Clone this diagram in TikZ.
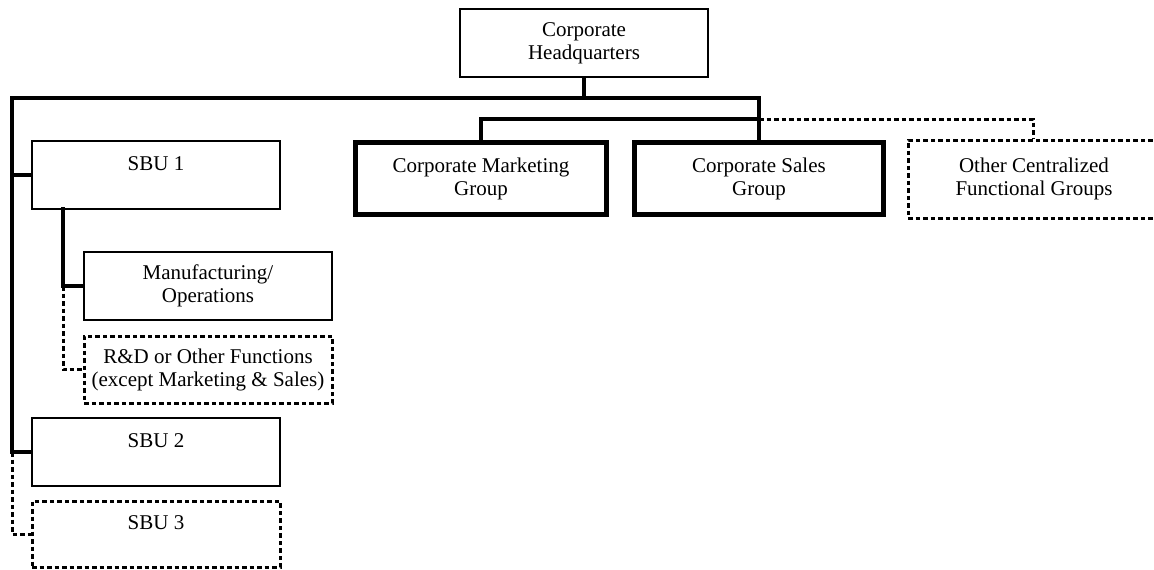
\documentclass[tikz,border=0pt]{standalone}
\usepackage{fontspec}
\setmainfont{Liberation Serif}
\begin{document}
\begin{tikzpicture}[x=1pt,y=-1pt,
  box/.style={draw, rectangle, line width=2pt, align=center, inner sep=0pt, font=\fontsize{21}{23}\selectfont},
  thickbox/.style={box, line width=5.5pt},
  dbox/.style={box, line width=3pt, dash pattern=on 4.5pt off 3pt},
  conn/.style={line width=3.4pt, line cap=rect},
  dconn/.style={line width=3pt, dash pattern=on 4.5pt off 3pt}]
\useasboundingbox (0,0) rectangle (1154,570);
\node[box, minimum width=248pt, minimum height=68pt] (hq) at (584,43) {Corporate\\Headquarters};
\node[thickbox, minimum width=251pt, minimum height=72pt] (mkt) at (481,178.5) {Corporate Marketing\\Group};
\node[thickbox, minimum width=249pt, minimum height=72pt] (sales) at (759,178.5) {Corporate Sales\\Group};
\node[dbox, minimum width=252pt, minimum height=78pt] (other) at (1034,179) {Other Centralized\\Functional Groups};
\node[box, minimum width=248pt, minimum height=68pt] (sbu1) at (156,175) {SBU 1\\\mbox{}};
\node[box, minimum width=248pt, minimum height=68pt] (mfg) at (208,286) {Manufacturing/\\Operations};
\node[dbox, minimum width=248pt, minimum height=67pt] (rd) at (208,369.5) {R\&D or Other Functions\\(except Marketing \& Sales)};
\node[box, minimum width=248pt, minimum height=68pt] (sbu2) at (156,452) {SBU 2\\\mbox{}};
\node[dbox, minimum width=248pt, minimum height=66pt] (sbu3) at (156,534) {SBU 3\\\mbox{}};
\coordinate (tl) at (12,98);
\coordinate (tr) at (759,98);
\coordinate (j) at (759,119);
\coordinate (s1) at (63,209);
\draw[conn] (hq.south) -- (hq.south |- tl);
\draw[conn] (sbu2.west) -| (tl) -- (tr) -- (j);
\draw[conn] (sbu1.west) -- (sbu1.west -| tl);
\draw[conn] (mkt.north) |- (j) -- (sales.north);
\draw[dconn] (j) -| (1033,0 |- other.north);
\draw[conn] (s1) |- (mfg.west);
\draw[dconn] (mfg.west -| s1) |- (rd.west);
\draw[dconn] (sbu2.west -| tl) |- (sbu3.west);
\end{tikzpicture}
\end{document}
